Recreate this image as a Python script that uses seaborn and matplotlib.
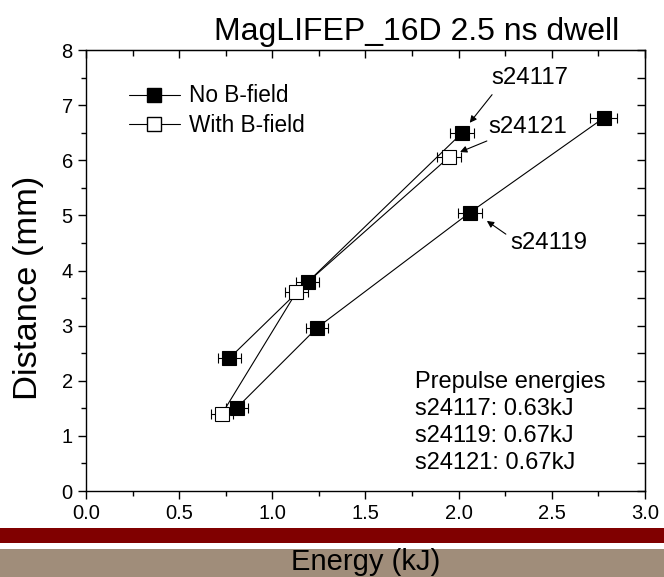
import numpy as np
import pandas as pd
import seaborn as sns
import matplotlib.pyplot as plt
from matplotlib.lines import Line2D
from matplotlib.patches import Rectangle
from matplotlib.ticker import MultipleLocator

# ============================================================
# Data
# ============================================================

energy_24117 = [0.77, 1.19, 2.02]
dist_24117 = [2.41, 3.79, 6.50]
err_24117 = [0.06, 0.06, 0.065]

energy_24119 = [0.81, 1.24, 2.06, 2.78]
dist_24119 = [1.51, 2.96, 5.05, 6.77]
err_24119 = [0.06, 0.06, 0.065, 0.072]

energy_24121 = [0.73, 1.13, 1.95]
dist_24121 = [1.40, 3.61, 6.06]
err_24121 = [0.06, 0.06, 0.065]

shots = ["s24117", "s24119", "s24121"]
bfield = ["No B-field", "No B-field", "With B-field"]

prepulse = ["s24117: 0.63kJ", "s24119: 0.67kJ", "s24121: 0.67kJ"]

frames = []
for shot, bf, e, d, er in zip(
    shots, bfield,
    [energy_24117, energy_24119, energy_24121],
    [dist_24117, dist_24119, dist_24121],
    [err_24117, err_24119, err_24121],
):
    frames.append(pd.DataFrame({"shot": shot, "bfield": bf, "energy": e,
                                "distance": d, "err": er}))
df = pd.concat(frames, ignore_index=True)

# ============================================================
# Style
# ============================================================

sns.set_style("ticks")
plt.rcParams["font.family"] = ["Liberation Sans", "DejaVu Sans"]
plt.rcParams["text.color"] = "black"
plt.rcParams["axes.labelcolor"] = "black"
plt.rcParams["xtick.color"] = "black"
plt.rcParams["ytick.color"] = "black"

fig = plt.figure(figsize=(6.64, 5.77), dpi=100)
ax = fig.add_axes([0.1295, 0.149, 0.8416, 0.7643])

# ============================================================
# Plot
# ============================================================

for shot in shots:
    sub = df[df["shot"] == shot]
    face = "white" if sub["bfield"].iloc[0] == "With B-field" else "black"
    ax.errorbar(sub["energy"], sub["distance"], xerr=sub["err"], fmt="none",
                ecolor="black", elinewidth=0.8, capsize=3.3, capthick=0.8,
                zorder=2)
    sns.lineplot(data=sub, x="energy", y="distance", ax=ax, sort=False,
                 estimator=None, color="black", linewidth=0.8, marker="s",
                 markersize=10, markerfacecolor=face, markeredgecolor="black",
                 markeredgewidth=0.8, zorder=3)

ax.set_xlim(0, 3)
ax.set_ylim(0, 8)
ax.xaxis.set_major_locator(MultipleLocator(0.5))
ax.xaxis.set_minor_locator(MultipleLocator(0.25))
ax.yaxis.set_major_locator(MultipleLocator(1))
ax.yaxis.set_minor_locator(MultipleLocator(0.5))
ax.xaxis.set_major_formatter(plt.FormatStrFormatter("%.1f"))
ax.tick_params(which="both", direction="out", top=False, right=False,
               width=1, labelsize=14.5, colors="black")
ax.tick_params(which="major", length=6)
ax.tick_params(which="minor", length=3.5)
ax.set_xlabel("")
ax.set_ylabel("")
for s in ax.spines.values():
    s.set_visible(True)
    s.set_linewidth(1)
    s.set_color("black")

secx = ax.secondary_xaxis("top")
secx.xaxis.set_major_locator(MultipleLocator(0.5))
secx.xaxis.set_minor_locator(MultipleLocator(0.25))
secx.tick_params(which="both", direction="in", labeltop=False, width=1)
secx.tick_params(which="major", length=6)
secx.tick_params(which="minor", length=4)

secy = ax.secondary_yaxis("right")
secy.yaxis.set_major_locator(MultipleLocator(1))
secy.yaxis.set_minor_locator(MultipleLocator(0.5))
secy.tick_params(which="both", direction="in", labelright=False, width=1)
secy.tick_params(which="major", length=6)
secy.tick_params(which="minor", length=6)

# legend
handles = [
    Line2D([], [], color="black", linewidth=0.8, marker="s", markersize=10,
           markerfacecolor="black", markeredgecolor="black"),
    Line2D([], [], color="black", linewidth=0.8, marker="s", markersize=10,
           markerfacecolor="white", markeredgecolor="black"),
]
ax.legend(handles, ["No B-field", "With B-field"], loc="upper left",
          bbox_to_anchor=(0.077, 0.922), frameon=False, fontsize=16.3,
          handlelength=2.25, handletextpad=0.4, borderpad=0,
          borderaxespad=0, labelspacing=0.3, numpoints=1)

# shot labels
arrow = dict(arrowstyle="-|>", color="black", lw=0.8, mutation_scale=10,
             shrinkA=0, shrinkB=0)
ax.annotate("", xy=(2.06, 6.68), xytext=(2.18, 7.19), arrowprops=arrow)
ax.text(2.383, 7.50, "s24117", fontsize=17.3, ha="center", va="center")
ax.annotate("", xy=(2.008, 6.15), xytext=(2.152, 6.35), arrowprops=arrow)
ax.text(2.373, 6.61, "s24121", fontsize=17.3, ha="center", va="center")
ax.annotate("", xy=(2.152, 4.90), xytext=(2.254, 4.66), arrowprops=arrow)
ax.text(2.485, 4.50, "s24119", fontsize=17.3, ha="center", va="center")

ax.text(1.766, 2.18, "Prepulse energies\n" + "\n".join(prepulse),
        fontsize=17, ha="left", va="top", linespacing=1.3)

# titles and bands
fig.text(0.627, 0.944, "MagLIFEP_16D 2.5 ns dwell", fontsize=23,
         ha="center", va="center")
fig.text(0.043, 0.501, "Distance (mm)", fontsize=24.8, rotation=90,
         ha="center", va="center")

fig.patches.append(Rectangle((0, 0.0589), 1, 0.026, transform=fig.transFigure,
                             facecolor="#800000", edgecolor="none"))
fig.patches.append(Rectangle((0, 0), 1, 0.0485, transform=fig.transFigure,
                             facecolor="#A08D7A", edgecolor="none"))
fig.text(0.551, 0.026, "Energy (kJ)", fontsize=21, ha="center", va="center")

fig.savefig("out.png", dpi=100)
